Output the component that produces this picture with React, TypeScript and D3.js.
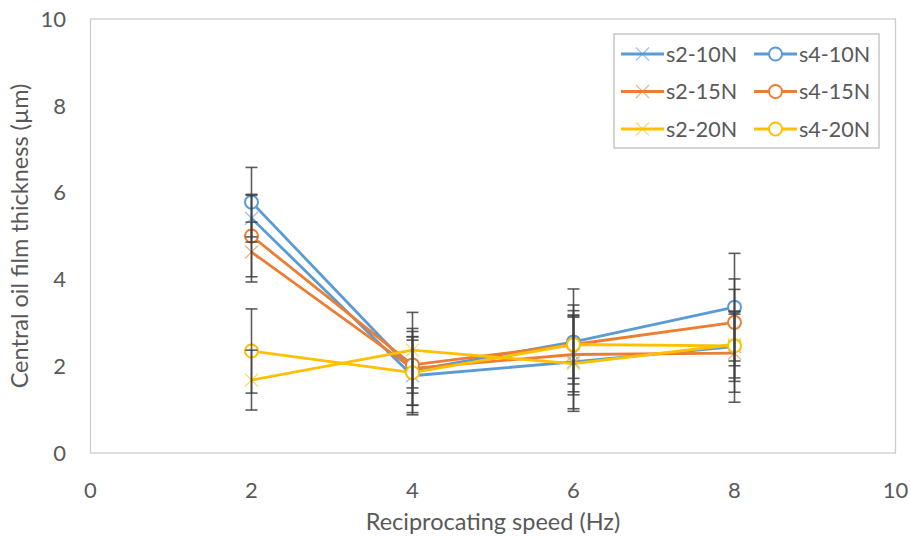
import React from "react"
import * as d3 from "d3"

// reciprocating speed (Hz)
const speeds = [2, 4, 6, 8]

const seriesNames = ["s2-10N", "s4-10N", "s2-15N", "s4-15N", "s2-20N", "s4-20N"]
const seriesColors = ["#5B9BD5", "#5B9BD5", "#ED7D31", "#ED7D31", "#FFC000", "#FFC000"]
const seriesMarkers = ["x", "o", "x", "o", "x", "o"]

// central oil film thickness (um)
const s2_10N = [5.41, 1.78, 2.1, 2.45]
const s4_10N = [5.78, 1.9, 2.56, 3.36]
const s2_15N = [4.63, 1.95, 2.27, 2.3]
const s4_15N = [5.0, 2.03, 2.5, 3.01]
const s2_20N = [1.68, 2.37, 2.06, 2.5]
const s4_20N = [2.35, 1.85, 2.5, 2.47]

// error bars (+/-)
const e2_10N = [0.55, 0.9, 1.08, 0.8]
const e4_10N = [0.8, 0.97, 1.22, 1.24]
const e2_15N = [0.69, 0.85, 0.86, 0.9]
const e4_15N = [0.94, 0.65, 0.78, 1.0]
const e2_20N = [0.69, 0.87, 1.1, 0.77]
const e4_20N = [0.97, 0.75, 0.91, 1.3]

const xTicks = [0, 2, 4, 6, 8, 10]
const yTicks = [0, 2, 4, 6, 8, 10]

const values = [s2_10N, s4_10N, s2_15N, s4_15N, s2_20N, s4_20N]
const errors = [e2_10N, e4_10N, e2_15N, e4_15N, e2_20N, e4_20N]

const W = 911
const H = 538
const font = "Lato, 'Noto Sans', sans-serif"
const textColor = "#595959"

function Marker({ type, x, y, color }: { type: string; x: number; y: number; color: string }) {
  if (type === "o") {
    return <circle cx={x} cy={y} r={6.5} fill="white" stroke={color} strokeWidth={2} />
  }
  const s = 6.5
  return (
    <path
      d={`M${x - s},${y - s}L${x + s},${y + s}M${x - s},${y + s}L${x + s},${y - s}`}
      stroke={color}
      strokeOpacity={0.6}
      strokeWidth={1.3}
      fill="none"
    />
  )
}

export default function App() {
  const x = d3.scaleLinear().domain([0, 10]).range([90.5, 895.5])
  const y = d3.scaleLinear().domain([0, 10]).range([453, 19])

  const line = d3
    .line<number>()
    .x((d, i) => x(speeds[i]))
    .y(d => y(d))

  const legendRows = [0, 1, 2]
  const legendCols = [0, 1]

  return (
    <svg width={W} height={H} style={{ position: "absolute", left: 0, top: 0, background: "white" }}>
      <rect x={0} y={0} width={W} height={H} fill="white" />
      {/* plot area border */}
      <rect x={x(0)} y={y(10)} width={x(10) - x(0)} height={y(0) - y(10)} fill="none" stroke="#cccccc" strokeWidth={1.3} />

      {/* y ticks */}
      {yTicks.map(t => (
        <text key={"y" + t} x={66} y={y(t)} dy="0.35em" textAnchor="end" fontFamily={font} fontSize={22} fill={textColor}>
          {t}
        </text>
      ))}
      {/* x ticks */}
      {xTicks.map(t => (
        <text key={"x" + t} x={x(t)} y={490} dy="0.35em" textAnchor="middle" fontFamily={font} fontSize={22} fill={textColor}>
          {t}
        </text>
      ))}

      <text x={(x(0) + x(10)) / 2} y={522} dy="0.35em" textAnchor="middle" fontFamily={font} fontSize={23.5} fill={textColor}>
        Reciprocating speed (Hz)
      </text>
      <text
        transform={`translate(20,${(y(0) + y(10)) / 2}) rotate(-90)`}
        dy="0.35em"
        textAnchor="middle"
        fontFamily={font}
        fontSize={23.5}
        fill={textColor}
      >
        Central oil film thickness (µm)
      </text>

      {/* lines */}
      {values.map((vals, k) => (
        <path key={"l" + k} d={line(vals) || ""} fill="none" stroke={seriesColors[k]} strokeWidth={2.8} strokeLinejoin="round" />
      ))}
      {/* markers */}
      {values.map((vals, k) =>
        vals.map((v, i) => (
          <Marker key={"m" + k + "-" + i} type={seriesMarkers[k]} x={x(speeds[i])} y={y(v)} color={seriesColors[k]} />
        ))
      )}
      {/* error bars */}
      {values.map((vals, k) =>
        vals.map((v, i) => {
          const cx = x(speeds[i])
          const hi = y(v + errors[k][i])
          const lo = y(v - errors[k][i])
          return (
            <g key={"e" + k + "-" + i} stroke="#404040" strokeOpacity={0.85} strokeWidth={1.6}>
              <line x1={cx} x2={cx} y1={hi} y2={lo} />
              <line x1={cx - 6} x2={cx + 6} y1={hi} y2={hi} />
              <line x1={cx - 6} x2={cx + 6} y1={lo} y2={lo} />
            </g>
          )
        })
      )}

      {/* legend */}
      <rect x={614} y={34} width={265} height={114} fill="white" stroke="#bfbfbf" strokeWidth={1.3} />
      {legendRows.map(r =>
        legendCols.map(c => {
          const k = r * 2 + c
          const lx = c === 0 ? 621 : 754
          const ly = 54 + r * 37.5
          return (
            <g key={"lg" + k}>
              <line x1={lx} x2={lx + 43} y1={ly} y2={ly} stroke={seriesColors[k]} strokeWidth={2.8} />
              <Marker type={seriesMarkers[k]} x={lx + 21.5} y={ly} color={seriesColors[k]} />
              <text x={lx + 45} y={ly} dy="0.35em" fontFamily={font} fontSize={21.5} fill={textColor}>
                {seriesNames[k]}
              </text>
            </g>
          )
        })
      )}
    </svg>
  )
}
